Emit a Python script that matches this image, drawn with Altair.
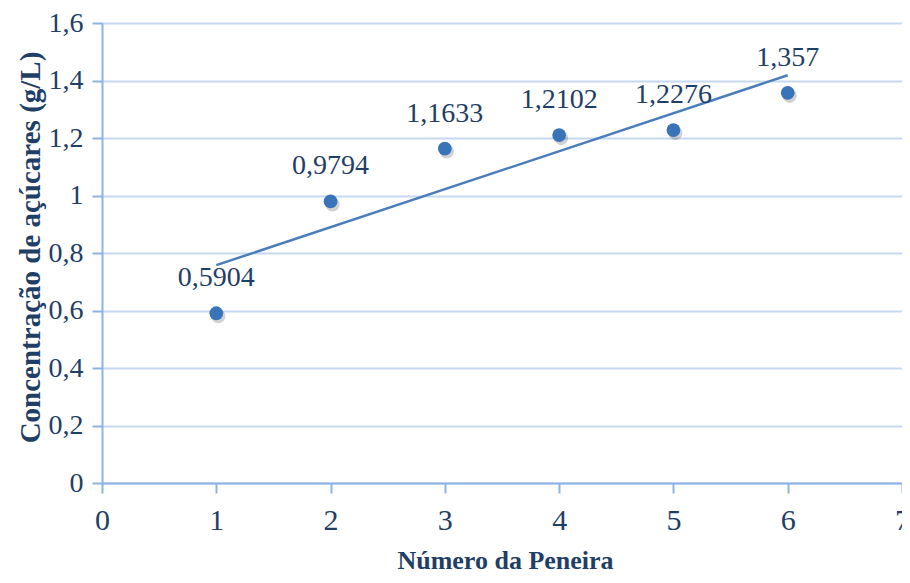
import altair as alt
import pandas as pd

peneira = [1, 2, 3, 4, 5, 6]
concentracao = [0.5904, 0.9794, 1.1633, 1.2102, 1.2276, 1.357]
y_ticks = [0, 0.2, 0.4, 0.6, 0.8, 1.0, 1.2, 1.4, 1.6]
x_ticks = [0, 1, 2, 3, 4, 5, 6, 7]

df = pd.DataFrame({"x": peneira, "y": concentracao})

navy = "#1F3F66"
font = "Liberation Serif"

xs = alt.X("x:Q", scale=alt.Scale(domain=[0, 7], nice=False),
           axis=alt.Axis(values=x_ticks, title="Número da Peneira", grid=False,
                         labelFontSize=30, labelColor=navy, labelFont=font, labelPadding=12,
                         titleFontSize=26, titleFont=font, titleFontWeight="bold", titleColor=navy,
                         titleX=403, titleY=85, titleBaseline="alphabetic",
                         domainColor="#8DB3E2", domainWidth=2, tickColor="#8DB3E2",
                         tickWidth=2, tickSize=10, labelFlush=False))
ys = alt.Y("y:Q", scale=alt.Scale(domain=[0, 1.6], nice=False),
           axis=alt.Axis(values=y_ticks, title="Concentração de açúcares (g/L)",
                         labelExpr="replace(format(datum.value, ''), '.', ',')",
                         labelFontSize=28, labelColor=navy, labelFont=font, labelPadding=9,
                         titleFontSize=29, titleFont=font, titleFontWeight="bold", titleColor=navy,
                         titleX=-72, titleY=224, titleAngle=-90, titleAlign="center",
                         titleBaseline="middle",
                         gridColor="#C6D9F1", gridWidth=2,
                         domainColor="#8DB3E2", domainWidth=2, tickColor="#8DB3E2",
                         tickWidth=2, tickSize=10))

base = alt.Chart(df)

shadow = base.mark_circle(color="#000000", opacity=0.18, size=200, xOffset=2, yOffset=3).encode(
    x=xs, y=ys)
points = base.mark_circle(color="#3A74B8", opacity=1, size=190).encode(x=xs, y=ys)
trend = base.transform_regression("x", "y", extent=[1, 6]).mark_line(
    color="#4A7EBB", strokeWidth=2.5).encode(x=xs, y=ys)
labels = base.transform_calculate(
    lbl="replace(format(datum.y, ''), '.', ',')"
).mark_text(font=font, fontSize=28, color=navy, baseline="bottom", dy=-21).encode(
    x=xs, y=ys, text="lbl:N")

chart = alt.layer(trend, shadow, points, labels).properties(
    width=800, height=460,
    autosize=alt.AutoSizeParams(type="none"),
    padding={"left": 94, "top": 15, "right": 0, "bottom": 92},
).configure_view(stroke=None).configure(background="white")

chart.save("out.html", embed_options={"renderer": "svg", "actions": False})
